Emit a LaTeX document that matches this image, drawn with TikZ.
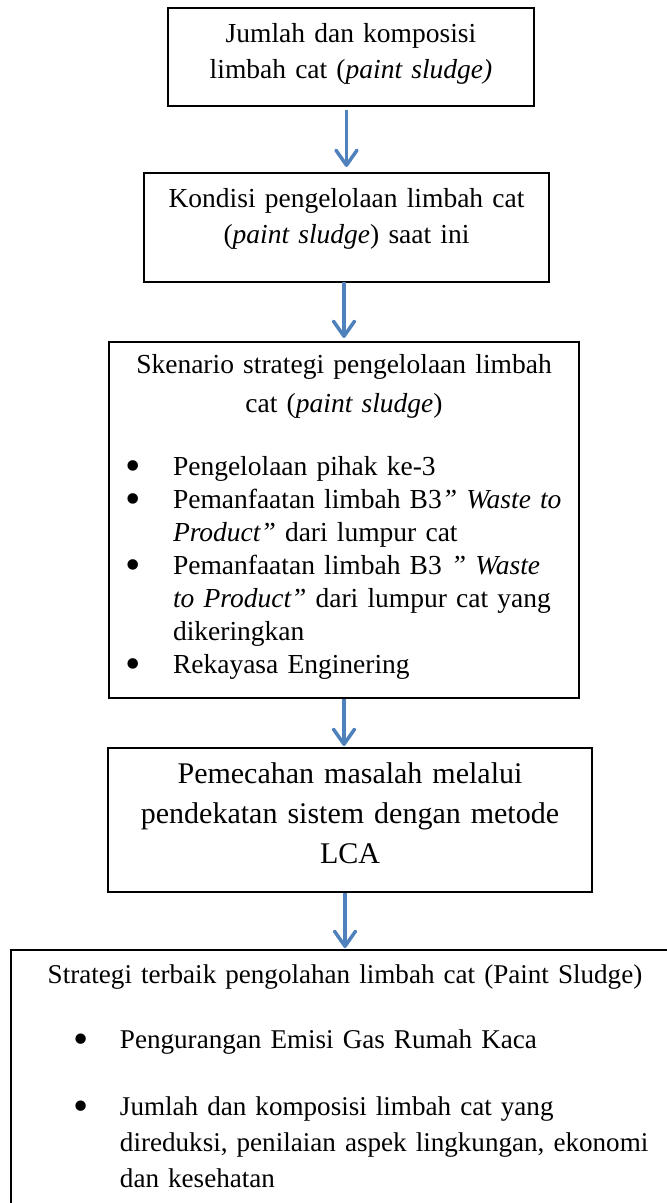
\documentclass[tikz,border=0pt]{standalone}
\usepackage{fontspec}
\setmainfont{Liberation Serif}
\usetikzlibrary{positioning, arrows.meta}
\definecolor{flowblue}{RGB}{79,129,189}
\newcommand{\bdot}{\raisebox{-5.8pt}[0pt][0pt]{\scalebox{1.6}{\textbullet}}}
\newcommand{\bline}[3]{\makebox[\linewidth][l]{\hspace{#1}\makebox[#2][l]{\bdot}#3}}
\newcommand{\bcont}[2]{\makebox[\linewidth][l]{\hspace{#1}#2}}

\begin{document}
\begin{tikzpicture}[x=1pt, y=1pt]
    \tikzstyle{box} = [rectangle, draw=black, line width=1.2pt, inner sep=0pt, outer sep=0pt, align=center, font=\fontsize{27.5}{36}\selectfont]
    \tikzstyle{arrow} = [draw=flowblue, line width=3.5pt, -{Straight Barb[length=15pt, width=21pt, round]}, shorten <=1pt, shorten >=2pt]

    \useasboundingbox (0,0) rectangle (667,-1203);
    \clip (0,0) rectangle (667,-1203);

    \node (amount) [box, text width=366pt, text height=34pt, text depth=64pt] at (351,-57)
        {Jumlah dan komposisi\\limbah cat (\textit{paint sludge)}};
    \node (current) [box, text width=405pt, text height=34pt, text depth=75pt, below=67pt of amount, xshift=-4.5pt]
        {Kondisi pengelolaan limbah cat\\(\textit{paint sludge}) saat ini};
    \node (scenario) [box, text width=470pt, text height=31pt, text depth=325pt, below=60pt of current, xshift=-2.5pt, font=\fontsize{27.5}{33}\selectfont]
        {Skenario strategi pengelolaan limbah\\[6pt]
         cat (\textit{paint sludge})\\[30pt]
         \bline{16.4pt}{47.6pt}{Pengelolaan pihak ke-3}\\
         \bline{16.4pt}{47.6pt}{Pemanfaatan limbah B3\textit{” Waste to}}\\
         \bcont{64pt}{\textit{Product”} dari lumpur cat}\\
         \bline{16.4pt}{47.6pt}{Pemanfaatan limbah B3 \textit{” Waste}}\\
         \bcont{64pt}{\textit{to Product”} dari lumpur cat yang}\\
         \bcont{64pt}{dikeringkan}\\
         \bline{16.4pt}{47.6pt}{Rekayasa Enginering}};
    \node (lca) [box, text width=484pt, text height=35pt, text depth=109pt, below=50pt of scenario, xshift=6pt, font=\fontsize{30}{40}\selectfont]
        {Pemecahan masalah melalui\\pendekatan sistem dengan metode\\LCA};
    \node (best) [box, text width=668pt, text height=33pt, text depth=290pt, below=58pt of lca, xshift=-5pt, font=\fontsize{27.1}{36}\selectfont]
        {Strategi terbaik pengolahan limbah cat (Paint Sludge)\\[29pt]
         \bline{62.4pt}{46.6pt}{Pengurangan Emisi Gas Rumah Kaca}\\[31pt]
         \bline{62.4pt}{46.6pt}{Jumlah dan komposisi limbah cat yang}\\
         \bcont{109pt}{direduksi, penilaian aspek lingkungan, ekonomi}\\
         \bcont{109pt}{dan kesehatan}};

    \draw [arrow, shorten <=4pt, shorten >=6pt] (current.north |- amount.south) -- (current.north);
    \draw [arrow, shorten <=0pt, shorten >=4pt] (scenario.north |- current.south) -- (scenario.north);
    \draw [arrow] (scenario.south) -- (scenario.south |- lca.north);
    \draw [arrow] (best.north |- lca.south) -- (best.north);
\end{tikzpicture}
\end{document}
